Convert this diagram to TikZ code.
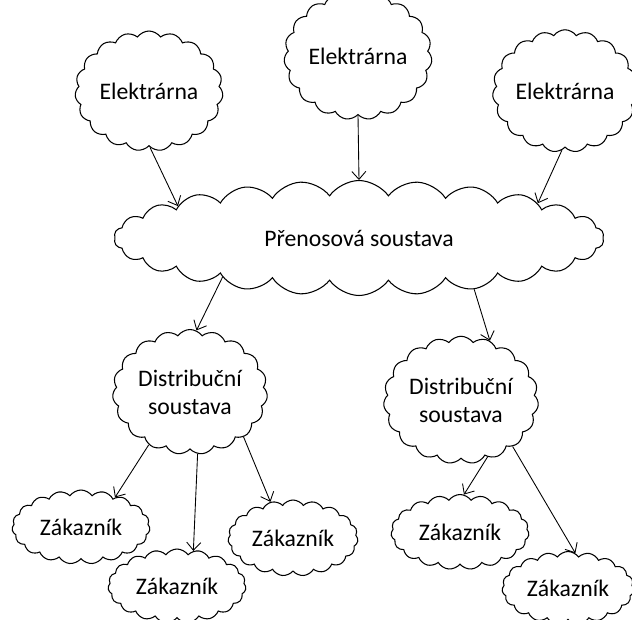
\documentclass[tikz,border=0pt]{standalone}
\usepackage{fontspec}
\setmainfont{Carlito}
\usetikzlibrary{shapes.symbols,arrows.meta}

\begin{document}
\begin{tikzpicture}[
        x=0.02cm, y=-0.02cm,
        oblak/.style={draw, cloud, cloud puffs=19, cloud puff arc=110, cloud ignores aspect,
            line width=0.6pt, fill=white, align=center, inner sep=0pt,
            font=\fontsize{13.5}{16}\selectfont},
        sipka/.style={->, line width=0.5pt},
        >={Straight Barb[length=4.5pt, width=8pt]}
    ]
        \useasboundingbox (0,0) rectangle (632,619);

        % Power plants
        \node[oblak, minimum width=2.96cm, minimum height=2.4cm] (el1) at (149,91) {Elektrárna};
        \node[oblak, minimum width=2.96cm, minimum height=2.55cm] (el2) at (358,56) {Elektrárna};
        \node[oblak, minimum width=2.9cm, minimum height=2.45cm] (el3) at (565,91) {Elektrárna};

        % Transmission
        \node[oblak, cloud puffs=26, minimum width=9.8cm, minimum height=2.3cm] (pren) at (359,238) {Přenosová soustava};

        % Distribution
        \node[oblak, minimum width=3.1cm, minimum height=2.5cm] (dist1) at (190,392) {Distribuční\\soustava};
        \node[oblak, minimum width=3.1cm, minimum height=2.55cm] (dist2) at (461,400) {Distribuční\\soustava};

        % Customers
        \node[oblak, minimum width=2.76cm, minimum height=1.48cm] (zak1) at (81,527) {Zákazník};
        \node[oblak, minimum width=2.76cm, minimum height=1.48cm] (zak2) at (177,586) {Zákazník};
        \node[oblak, minimum width=2.6cm, minimum height=1.52cm] (zak3) at (293,538) {Zákazník};
        \node[oblak, minimum width=2.76cm, minimum height=1.5cm] (zak4) at (460,532) {Zákazník};
        \node[oblak, minimum width=2.64cm, minimum height=1.46cm] (zak5) at (568,588) {Zákazník};

        % Arrows
        \draw[sipka] (el1.-89) -- (pren.170);
        \draw[sipka] (el2.-90) -- (pren.90);
        \draw[sipka] (el3.-93) -- (pren.11);
        \draw[sipka] (pren.196) -- (dist1.84);
        \draw[sipka] (pren.-24) -- (dist2.64);
        \draw[sipka] (dist1.232) -- (zak1.41);
        \draw[sipka] (dist1.-83) -- (zak2.65);
        \draw[sipka] (dist1.-40) -- (zak3.122);
        \draw[sipka] (dist2.-65) -- (zak4.84);
        \draw[sipka] (dist2.-42) -- (zak5.78);
\end{tikzpicture}
\end{document}
